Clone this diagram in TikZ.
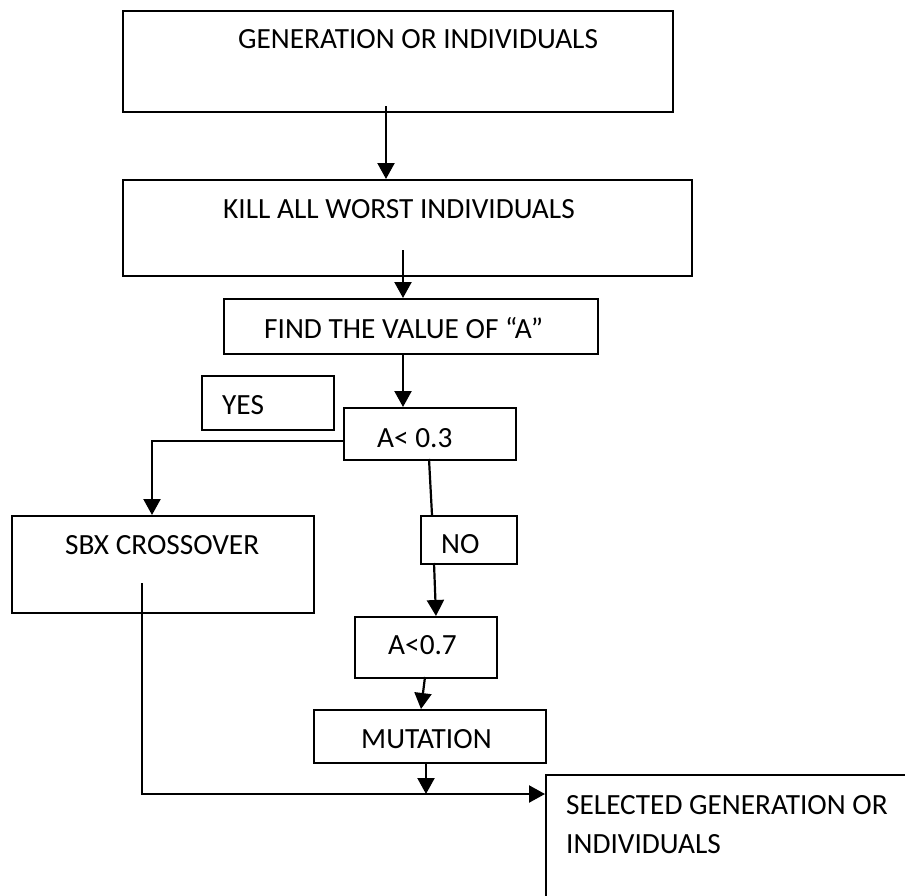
\documentclass[tikz,border=0pt]{standalone}
\usepackage{fontspec}
\setmainfont{Carlito}
\usetikzlibrary{arrows.meta}
\tikzset{
  box/.style={draw=black, line width=2pt, inner sep=0pt, fill=none},
  txt/.style={inner sep=0pt, anchor=base west, font=\fontsize{29.3}{35}\selectfont},
  conn/.style={line width=2.2pt, draw=black},
  arr/.style={conn, -{Triangle[length=16pt,width=17pt]}}
}
\begin{document}
\begin{tikzpicture}[x=1pt,y=-1pt]
\useasboundingbox (0,0) rectangle (905,895);
\clip (0,0) rectangle (905,895);
% boxes (named rectangle nodes: anchor north west, given width/height)
\node[box, anchor=north west, minimum width=550pt, minimum height=101pt] (b1) at (122,10) {};
\node[box, anchor=north west, minimum width=569pt, minimum height=96pt] (b2) at (122,179) {};
\node[box, anchor=north west, minimum width=374pt, minimum height=55pt] (b3) at (223,298) {};
\node[box, anchor=north west, minimum width=132pt, minimum height=54pt] (yes) at (201,375) {};
\node[box, anchor=north west, minimum width=172pt, minimum height=52pt] (a03) at (343,407) {};
\node[box, anchor=north west, minimum width=302pt, minimum height=97pt] (sbx) at (11,515) {};
\node[box, anchor=north west, minimum width=96pt, minimum height=48pt] (no) at (420,515) {};
\node[box, anchor=north west, minimum width=142pt, minimum height=61pt] (a07) at (354,616) {};
\node[box, anchor=north west, minimum width=232pt, minimum height=53pt] (mut) at (313,709) {};
\node[box, anchor=north west, minimum width=400pt, minimum height=160pt] (sel) at (545,774) {};
% texts
\node[txt] (t1) at (238,48) {GENERATION OR INDIVIDUALS};
\node[txt] (t2) at (223,218) {KILL ALL WORST INDIVIDUALS};
\node[txt] (t3) at (264,338) {FIND THE VALUE OF “A”};
\node[txt] (t4) at (222,414) {YES};
\node[txt] (t5) at (377,447) {A< 0.3};
\node[txt] (t6) at (65,554) {SBX CROSSOVER};
\node[txt] (t7) at (441,553) {NO};
\node[txt] (t8) at (388,654) {A<0.7};
\node[txt] (t9) at (361,748) {MUTATION};
\node[txt] (t10) at (566,814) {SELECTED GENERATION OR};
\node[txt] (t11) at (566,853) {INDIVIDUALS};
% connector anchor points
\coordinate (p1) at (386,106);
\coordinate (p2) at (403,250);
\coordinate (p3) at (403,353);
\coordinate (q1) at (343,441);
\coordinate (q2) at (152,515);
\coordinate (n1) at (429,459);
\coordinate (n2) at (432,515);
\coordinate (n3) at (434,563);
\coordinate (n4) at (436,616);
\coordinate (m1) at (425,677);
\coordinate (m2) at (421,709);
\coordinate (m3) at (426,762);
\coordinate (m4) at (426,794);
\coordinate (s1) at (142,583);
\coordinate (s2) at (545,794);
% connectors
\draw[arr] (p1) -- (p1 |- b2.north);
\draw[arr] (p2) -- (p2 |- b3.north);
\draw[arr] (p3) -- (p3 |- a03.north);
\draw[arr] (q1) -| (q2);
\draw[conn] (n1) -- (n2);
\draw[arr] (n3) -- (n4);
\draw[arr] (m1) -- (m2);
\draw[arr] (m3) -- (m4);
\draw[arr] (s1) |- (s2);
\end{tikzpicture}
\end{document}
